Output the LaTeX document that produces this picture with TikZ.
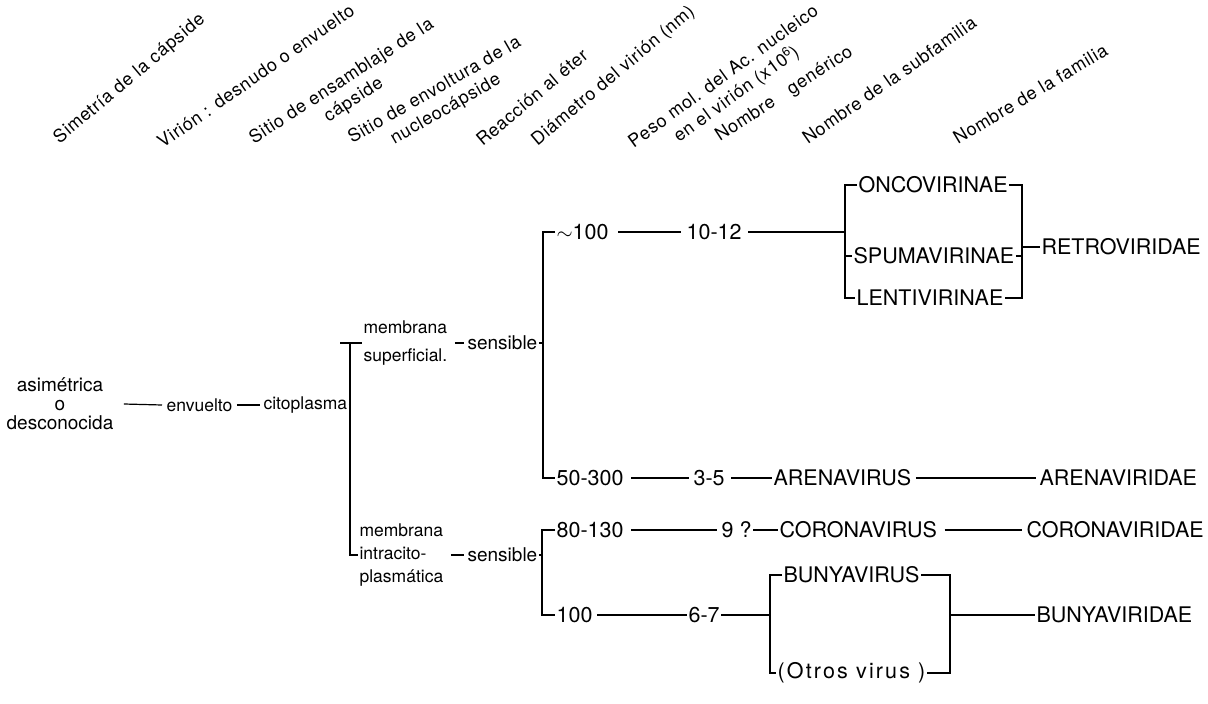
\documentclass[tikz,border=0pt]{standalone}
\usepackage{fontspec}
\setmainfont{TeX Gyre Heros}
\begin{document}
\begin{tikzpicture}[x=1pt,y=-1pt, line width=1.2pt,
  lo/.style={font=\fontsize{17.5}{21}\selectfont, inner sep=1pt, anchor=west},
  up/.style={font=\fontsize{21.5}{24}\selectfont, inner sep=1pt, anchor=west},
  hd/.style={font=\fontsize{18}{22}\selectfont\addfontfeature{LetterSpace=4}, inner sep=0pt, anchor=south west, align=center}]
\useasboundingbox (0,0) rectangle (1208,704);

% ---------- header ----------
\node[hd, rotate=40] (h1) at (62,148) {Simetría de la cápside};
\node[hd, rotate=35] (h2) at (163,150) {Virión : desnudo o envuelto};
\node[hd, rotate=33] (h3) at (268,167) {Sitio de ensamblaje de la\\cápside};
\node[hd, rotate=30] (h4) at (365,167) {Sitio de envoltura de la\\nucleocápside};
\node[hd, rotate=40] (h5) at (483,148) {Reacción al éter};
\node[hd, rotate=40] (h6) at (540,150) {Diámetro del virión (nm)};
\node[hd, rotate=36] (h7) at (649,170) {Peso mol. del Ac. nucleico\\en el virión (x10\textsuperscript{6})};
\node[hd, rotate=33] (h8) at (722,146) {Nombre\quad genérico};
\node[hd, rotate=35] (h9) at (808,146) {Nombre de la subfamilia};
\node[hd, rotate=31] (h10) at (958,146) {Nombre de la familia};

% ---------- left part ----------
\node[lo, align=center, anchor=center, font=\fontsize{19}{19}\selectfont] (asim) at (60,404) {asimétrica\\o\\desconocida};
\node[lo] (env) at (165,405) {envuelto};
\node[lo] (cito) at (262,405) {citoplasma};
\draw ([xshift=9pt]asim.east) -- ([xshift=-3pt]env.west);
\draw ([xshift=3pt]env.east) -- ([xshift=-2pt]cito.west);

\coordinate (v1t) at (350,343);
\coordinate (v1m) at (350,405);
\node[lo, align=left, font=\fontsize{17.5}{28}\selectfont] (ms) at (362,343) {membrana\\superficial.};
\node[lo, align=left, font=\fontsize{17.5}{23}\selectfont] (mi) at (358,555) {membrana\\intracito-\\plasmática};
\draw (cito.east) -- (v1m);
\draw ([xshift=-10pt]v1t) -- ([xshift=12pt]v1t);
\draw (v1t) |- (mi.west);

\node[lo, font=\fontsize{19}{21}\selectfont] (s1) at (466,343) {sensible};
\node[lo, font=\fontsize{19}{21}\selectfont] (s2) at (466,555) {sensible};
\draw ([xshift=6pt]ms.east) -- ([xshift=-2pt]s1.west);
\draw ([xshift=6pt]mi.east) -- ([xshift=-2pt]s2.west);

% ---------- upper branch ----------
\coordinate (v2t) at (543,232);
\coordinate (v2b) at (543,478);
\draw (s1.east) -- (s1.east -| v2t);
\node[up] (a100) at (555,232) {$\sim$100};
\node[up] (a1012) at (685,232) {10-12};
\node[up] (a50) at (555,478) {50-300};
\draw (a100.west) -- (v2t) -- (v2b) -- (a50.west);
\draw ([xshift=8pt]a100.east) -- ([xshift=-4pt]a1012.west);

\coordinate (v3m) at (845,232);
\node[up] (onco) at (857,185) {ONCOVIRINAE};
\node[up] (spuma) at (852,256) {SPUMAVIRINAE};
\node[up] (lenti) at (855,298) {LENTIVIRINAE};
\draw ([xshift=5pt]a1012.east) -- (v3m);
\draw (onco.west) -- (onco.west -| v3m) -- (lenti.west -| v3m) -- (lenti.west);
\draw (spuma.west) -- (spuma.west -| v3m);
\coordinate (v4) at (1022,247);
\draw (onco.east) -- (onco.east -| v4) -- (lenti.east -| v4) -- (lenti.east);
\draw (spuma.east) -- (spuma.east -| v4);
\node[up] (retro) at (1040,247) {RETROVIRIDAE};
\draw (v4) -- (retro.west);

\node[up] (a35) at (692,478) {3-5};
\node[up] (arv) at (772,478) {ARENAVIRUS};
\node[up] (arf) at (1038,478) {ARENAVIRIDAE};
\draw ([xshift=6pt]a50.east) -- ([xshift=-3pt]a35.west);
\draw ([xshift=5pt]a35.east) -- (arv.west);
\draw ([xshift=3pt]arv.east) -- ([xshift=-2pt]arf.west);

% ---------- lower branch ----------
\coordinate (v5t) at (542,530);
\coordinate (v5b) at (542,615);
\draw (s2.east) -- (s2.east -| v5t);
\node[up] (a80) at (555,530) {80-130};
\node[up] (a9) at (720,530) {9 ?};
\node[up] (crv) at (778,530) {CORONAVIRUS};
\node[up] (crf) at (1025,530) {CORONAVIRIDAE};
\node[up] (a100b) at (555,615) {100};
\node[up] (a67) at (687,615) {6-7};
\draw (a80.west) -- (v5t) -- (v5b) -- (a100b.west);
\draw ([xshift=6pt]a80.east) -- ([xshift=-3pt]a9.west);
\draw (a9.east) -- (crv.west);
\draw ([xshift=6pt]crv.east) -- ([xshift=-3pt]crf.west);
\draw ([xshift=3pt]a100b.east) -- (a67.west);

\coordinate (v6m) at (770,615);
\node[up] (bun) at (782,575) {BUNYAVIRUS};
\node[up, font=\fontsize{21.5}{24}\selectfont\addfontfeature{LetterSpace=10}] (otr) at (776,673) {(Otros virus )};
\draw (a67.east) -- (v6m);
\draw (bun.west) -- (bun.west -| v6m) -- (otr.west -| v6m) -- (otr.west);
\coordinate (v7m) at (950,615);
\draw (bun.east) -- (bun.east -| v7m) -- (otr.east -| v7m) -- (otr.east);
\node[up] (bunf) at (1035,615) {BUNYAVIRIDAE};
\draw (v7m) -- (bunf.west);
\end{tikzpicture}
\end{document}
